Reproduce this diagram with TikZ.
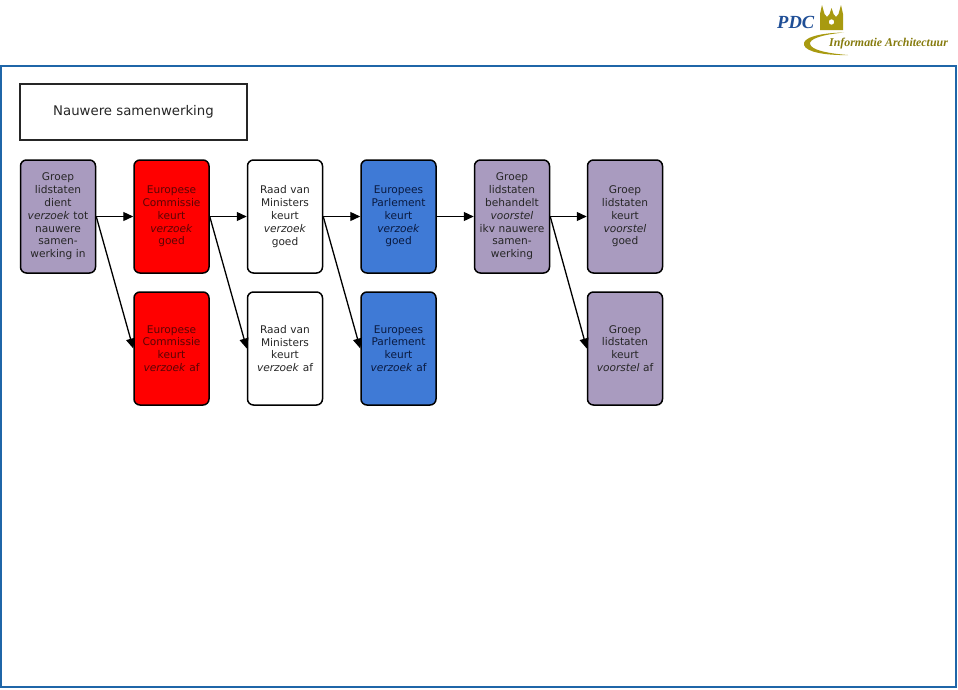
\documentclass[tikz,border=0pt]{standalone}
\usepackage{fontspec}
\setmainfont{DejaVu Sans}
\newfontfamily\logofont{Liberation Serif}
\usetikzlibrary{arrows.meta}
\definecolor{framblue}{HTML}{1F66A8}
\definecolor{lilac}{HTML}{A99BBF}
\definecolor{eblue}{HTML}{3F7AD6}
\definecolor{logoblue}{HTML}{1F4E96}
\definecolor{logogold}{HTML}{A89A10}
\definecolor{ontint}{HTML}{5A0505}
\definecolor{bluetint}{HTML}{0A1A40}
\tikzset{
  x=1pt,y=-1pt,
  proc/.style={draw=black,line width=1.5pt,rounded corners=6pt,minimum width=75pt,minimum height=113pt,
    inner sep=0pt,align=center,text width=75pt,font=\fontsize{10.6pt}{12.8pt}\selectfont},
  lil/.style={proc,fill=lilac,text=black!85},
  rood/.style={proc,fill=red,text=ontint},
  wit/.style={proc,fill=white,text=black!85},
  blauw/.style={proc,fill=eblue,text=bluetint},
  conn/.style={draw=black,line width=1.3pt,-{Triangle[length=10pt,width=9pt]}},
}
\begin{document}
\begin{tikzpicture}
\useasboundingbox (0,0) rectangle (958,689);
\fill[white] (0,0) rectangle (958,689);
% frame
\draw[framblue,line width=1.5pt] (1,66) rectangle (956,687);
% title
\node[draw=black!85,line width=1.5pt,minimum width=227pt,minimum height=56pt,inner sep=0pt,
  font=\fontsize{13.3pt}{15pt}\selectfont,text=black!85] (title) at (133.5,112) {Nauwere samenwerking};
% process boxes
\node[lil]   (g1) at (58,216.5)    {Groep\\lidstaten\\dient\\\textit{verzoek} tot\\nauwere\\samen-\\werking in};
\node[rood]  (c1) at (171.5,216.5) {Europese\\Commissie\\keurt\\\textit{verzoek}\\goed};
\node[wit]   (r1) at (285,216.5)   {Raad van\\Ministers\\keurt\\\textit{verzoek}\\goed};
\node[blauw] (p1) at (398.5,216.5) {Europees\\Parlement\\keurt\\\textit{verzoek}\\goed};
\node[lil]   (g2) at (512,216.5)   {Groep\\lidstaten\\behandelt\\\textit{voorstel}\\ikv nauwere\\samen-\\werking};
\node[lil]   (g3) at (625,216.5)   {Groep\\lidstaten\\keurt\\\textit{voorstel}\\goed};
\node[rood]  (c2) at (171.5,348.5) {Europese\\Commissie\\keurt\\\textit{verzoek} af};
\node[wit]   (r2) at (285,348.5)   {Raad van\\Ministers\\keurt\\\textit{verzoek} af};
\node[blauw] (p2) at (398.5,348.5) {Europees\\Parlement\\keurt\\\textit{verzoek} af};
\node[lil]   (g4) at (625,348.5)   {Groep\\lidstaten\\keurt\\\textit{voorstel} af};
% connectors
\draw[conn] (g1.east) -- (c1.west);
\draw[conn] (c1.east) -- (r1.west);
\draw[conn] (r1.east) -- (p1.west);
\draw[conn] (p1.east) -- (g2.west);
\draw[conn] (g2.east) -- (g3.west);
\draw[conn] (g1.east) -- (c2.west);
\draw[conn] (c1.east) -- (r2.west);
\draw[conn] (r1.east) -- (p2.west);
\draw[conn] (g2.east) -- (g4.west);
% logo
\node[anchor=base west,inner sep=0pt,text=logoblue,font=\logofont\bfseries\itshape\fontsize{18.5pt}{20pt}\selectfont] (pdc) at (777,28.5) {PDC};
\fill[logogold,even odd rule]
  (820,30) -- (820,14) -- (822,5) -- (824.5,14) -- (827,17) -- (829.5,14) -- (831.5,8) -- (833.5,14) -- (836,17) -- (838.5,14) -- (841,5) -- (843,14) -- (843,30) -- cycle
  (831.5,22) circle (2.8);
\fill[logogold] (844,32.5) .. controls (818,33) and (802,38) .. (804,45)
  .. controls (806,52) and (825,55.5) .. (848,55)
  .. controls (828,53.5) and (811,50) .. (810,44)
  .. controls (809,39) and (822,34.5) .. (844,32.5) -- cycle;
\node[anchor=base west,inner sep=0pt,text=logogold!80!black,font=\logofont\bfseries\itshape\fontsize{11.9pt}{12pt}\selectfont] (ia) at (829,46.5) {Informatie Architectuur};
\end{tikzpicture}
\end{document}
